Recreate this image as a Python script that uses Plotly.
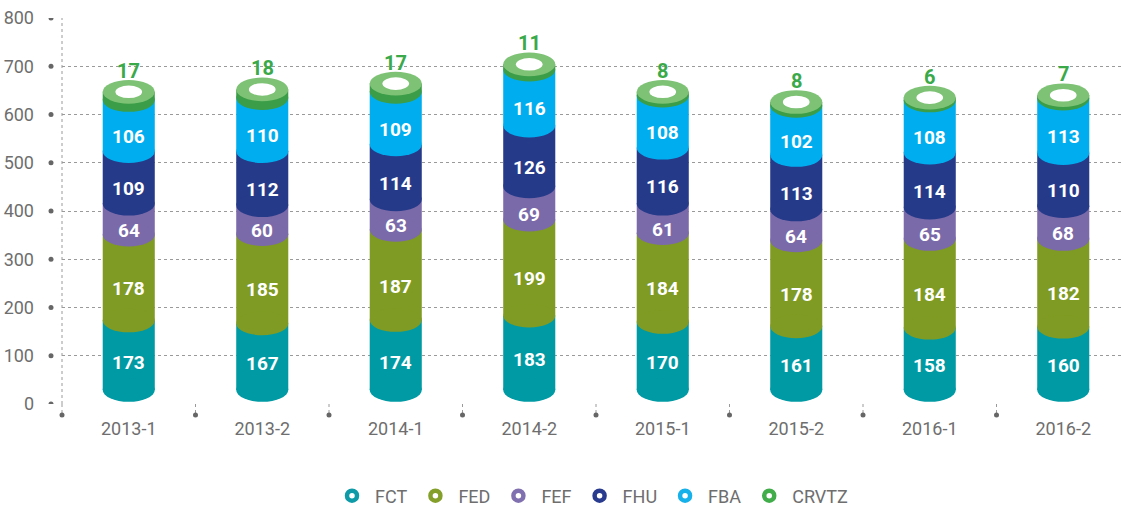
import plotly.graph_objects as go

categories = ["2013-1", "2013-2", "2014-1", "2014-2", "2015-1", "2015-2", "2016-1", "2016-2"]
series_names = ["FCT", "FED", "FEF", "FHU", "FBA", "CRVTZ"]
fct = [173, 167, 174, 183, 170, 161, 158, 160]
fed = [178, 185, 187, 199, 184, 178, 184, 182]
fef = [64, 60, 63, 69, 61, 64, 65, 68]
fhu = [109, 112, 114, 126, 116, 113, 114, 110]
fba = [106, 110, 109, 116, 108, 102, 108, 113]
crvtz = [17, 18, 17, 11, 8, 8, 6, 7]
y_ticks = [0, 100, 200, 300, 400, 500, 600, 700, 800]

series_values = [fct, fed, fef, fhu, fba, crvtz]
side_colors = ["#009aa4", "#7f9b23", "#7b6aa9", "#263a8a", "#00aeef", "#3b9d47"]
legend_colors = ["#0e9aa7", "#84a02b", "#8170b0", "#283b8e", "#16b1ea", "#41ad4a"]
top_color = "#7dc275"
label_green = "#3aa94a"
grey = "#6e6e6e"

FONT = "Roboto, Liberation Sans, sans-serif"
BAR_W = 0.39          # category units
ELL_H = 24.5          # ellipse half-height, value units
BASE_OFF = 29         # cylinder bottom lift
LABEL_SHIFT = 23
HOLE_W = 0.1
HOLE_H = 13
X_RANGE = [-0.5, -0.5 + 1059 / 133.5]

fig = go.Figure()

n = len(categories)
xs = list(range(n))
shapes = []
annotations = []

cum = [[0] * n]
for vals in series_values:
    cum.append([c + v for c, v in zip(cum[-1], vals)])

# bars (cylinder bodies)
for k, (name, vals) in enumerate(zip(series_names, series_values)):
    base = [BASE_OFF if k == 0 else cum[k][i] for i in range(n)]
    height = [cum[k + 1][i] - base[i] for i in range(n)]
    fig.add_trace(go.Bar(
        x=xs, y=height, base=base, width=BAR_W,
        marker=dict(color=side_colors[k], line=dict(width=0)),
        showlegend=False, hoverinfo="skip"))

# ellipses for cylinder look
for i in range(n):
    for k in range(len(series_values)):
        lo = BASE_OFF if k == 0 else cum[k][i]
        shapes.append(dict(type="circle", xref="x", yref="y", layer="above",
                           x0=i - BAR_W / 2, x1=i + BAR_W / 2,
                           y0=lo - ELL_H, y1=lo + ELL_H,
                           fillcolor=side_colors[k], line=dict(width=0)))
    tot = cum[-1][i]
    shapes.append(dict(type="circle", xref="x", yref="y", layer="above",
                       x0=i - BAR_W / 2, x1=i + BAR_W / 2,
                       y0=tot - ELL_H, y1=tot + ELL_H,
                       fillcolor=top_color, line=dict(width=0)))
    shapes.append(dict(type="circle", xref="x", yref="y", layer="above",
                       x0=i - HOLE_W, x1=i + HOLE_W,
                       y0=tot - HOLE_H, y1=tot + HOLE_H,
                       fillcolor="white", line=dict(width=0)))

# labels
for k, vals in enumerate(series_values[:-1]):
    for i in range(n):
        lo, hi = cum[k][i], cum[k + 1][i]
        yv = (lo + hi) / 2 - (LABEL_SHIFT if k > 0 else 0)
        annotations.append(dict(x=i, y=yv, xref="x", yref="y", text=str(vals[i]),
                                showarrow=False,
                                font=dict(family=FONT, size=19, color="white", weight="bold")))
for i in range(n):
    annotations.append(dict(x=i, y=cum[-1][i], xref="x", yref="y", text=str(crvtz[i]),
                            showarrow=False, yanchor="bottom", yshift=7,
                            font=dict(family=FONT, size=20, color=label_green, weight="bold")))

# axis decorations: y-axis dotted line, dots
shapes.append(dict(type="line", xref="paper", yref="paper", x0=0, x1=0, y0=0, y1=1,
                   layer="below", line=dict(color="#9a9a9a", width=1, dash="dot")))
for t in y_ticks:
    shapes.append(dict(type="circle", xref="paper", yref="y", xsizemode="pixel", ysizemode="pixel",
                       xanchor=0, yanchor=t, x0=-13.5, x1=-8.5, y0=-2.5, y1=2.5,
                       fillcolor="#666666", line=dict(width=0)))
for i in range(n):
    b = (i - 0.5 - X_RANGE[0]) / (X_RANGE[1] - X_RANGE[0])
    shapes.append(dict(type="line", xref="paper", yref="paper", ysizemode="pixel", yanchor=0,
                       x0=b, x1=b, y0=0, y1=-11, layer="below",
                       line=dict(color="#9a9a9a", width=1, dash="dot")))
    shapes.append(dict(type="circle", xref="paper", yref="paper", xsizemode="pixel", ysizemode="pixel",
                       xanchor=b, yanchor=0, x0=-2.5, x1=2.5, y0=-13.5, y1=-8.5,
                       fillcolor="#666666", line=dict(width=0)))

# legend entries
for name, col in zip(series_names, legend_colors):
    fig.add_trace(go.Scatter(x=[None], y=[None], mode="markers", name=name,
                             marker=dict(symbol="circle-open", size=10, color=col,
                                         line=dict(width=4.5, color=col))))

fig.update_layout(
    width=1121, height=507, autosize=False,
    margin=dict(l=62, r=0, t=18, b=103),
    paper_bgcolor="white", plot_bgcolor="white",
    barmode="overlay",
    shapes=shapes, annotations=annotations,
    font=dict(family=FONT, color=grey),
    xaxis=dict(range=X_RANGE, tickmode="array", tickvals=xs, automargin=False,
               ticktext=categories, showgrid=False, zeroline=False, showline=False,
               ticks="", ticklabelstandoff=12, tickfont=dict(size=18, color=grey, family=FONT)),
    yaxis=dict(range=[0, 800], tickvals=y_ticks, showgrid=True, gridcolor="#9a9a9a",
               griddash="dot", gridwidth=1, zeroline=False, showline=False, ticks="", automargin=False,
               ticklabelstandoff=27, tickfont=dict(size=18, color=grey, family=FONT)),
    legend=dict(orientation="h", x=0.5, xanchor="center", yref="container", y=11 / 507,
                yanchor="middle", font=dict(size=18, color=grey, family=FONT),
                itemwidth=36, bgcolor="rgba(0,0,0,0)"),
)

fig.write_html("out.html", config={"displayModeBar": False},
               post_script="document.body.style.margin='0';")
